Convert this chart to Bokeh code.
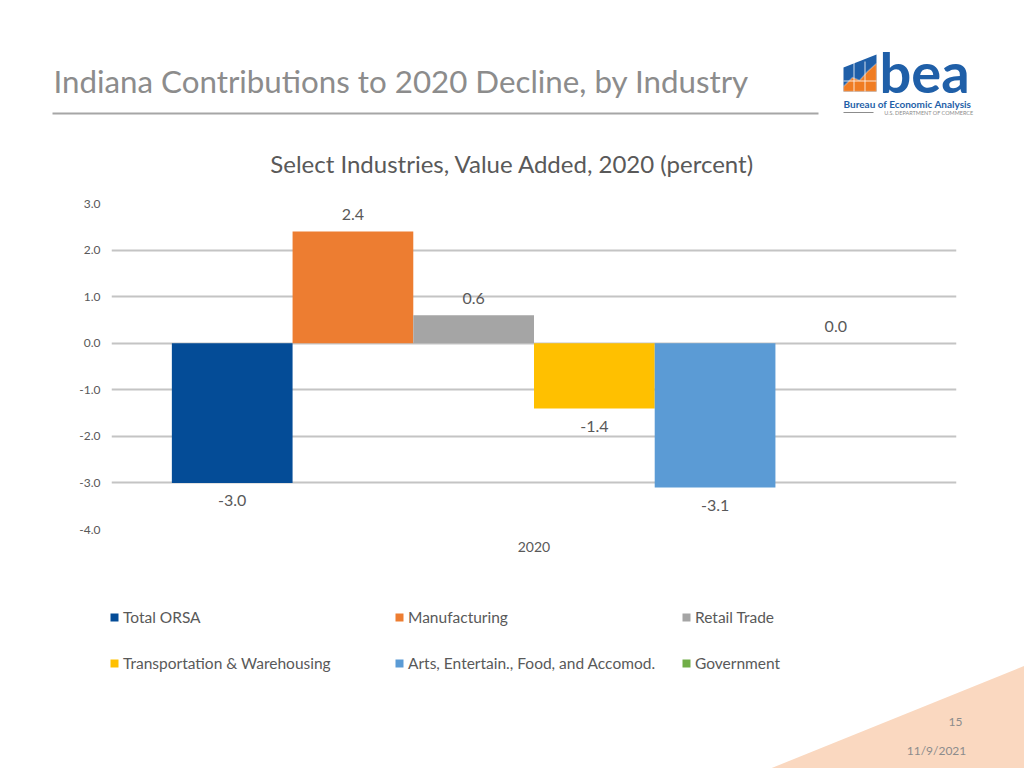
from bokeh.plotting import figure
from bokeh.layouts import column
from bokeh.models import (Range1d, FactorRange, FixedTicker, NumeralTickFormatter,
                          ColumnDataSource, Legend, LegendItem, Label,
                          BoxAnnotation, PolyAnnotation)
from bokeh.embed import file_html
from bokeh.resources import INLINE
from bokeh.core.properties import value

# ---------------- data ----------------
categories = ["2020"]
series = ["Total ORSA", "Manufacturing", "Retail Trade",
          "Transportation & Warehousing", "Arts, Entertain., Food, and Accomod.",
          "Government"]
values_2020 = [-3.0, 2.4, 0.6, -1.4, -3.1, 0.0]
colors = ["#044c97", "#ed7d31", "#a5a5a5", "#ffc000", "#5b9bd5", "#70ad47"]
y_ticks = [-4.0, -3.0, -2.0, -1.0, 0.0, 1.0, 2.0, 3.0]

slide_title = "Indiana Contributions to 2020 Decline, by Industry"
chart_title = "Select Industries, Value Added, 2020 (percent)"
slide_number = "15"
slide_date = "11/9/2021"

FONT = "Lato"
TXT = "#595959"
GRAY = "#8c8c8c"
W = 1024
HEAD_H, CHART_H, FOOT_H = 185, 405, 178

n = len(series)
slot = 1.0 / (n + 1)
xs = [(categories[0], (i - (n - 1) / 2) * slot) for i in range(n)]
labels = [f"{v:.1f}" for v in values_2020]
yoff = [-17 if v >= 0 else 18 for v in values_2020]

src = ColumnDataSource(dict(x=xs, idx=list(range(n)), value=values_2020,
                            color=colors, label=labels, yoff=yoff, name=series))


def blank(h, y0, y1):
    f = figure(width=W, height=h, x_range=Range1d(0, W), y_range=Range1d(y1, y0),
               x_axis_type=None, y_axis_type=None, output_backend="svg",
               toolbar_location=None, min_border=0, frame_align=False)
    f.grid.visible = False
    f.outline_line_color = None
    f.background_fill_color = "white"
    f.border_fill_color = "white"
    return f


# ---------------- header ----------------
ph = blank(HEAD_H, 0, HEAD_H)
ph.add_layout(Label(x=53, y=80, text=slide_title, text_font=FONT,
                    text_font_size="31.3px", text_color=GRAY,
                    text_baseline="middle", text_align="left"))
ph.add_layout(BoxAnnotation(left=52, right=818, top=112, bottom=114,
                            fill_color="#a6a6a6", fill_alpha=1, line_color=None))

BLUE = "#1f5fa8"
ORANGE = "#f07c22"
ph.add_layout(PolyAnnotation(xs=[843, 876, 876, 843], ys=[67, 54, 91, 91],
                             fill_color=BLUE, fill_alpha=1, line_color=None))
ph.add_layout(PolyAnnotation(xs=[843, 843, 852, 859, 867, 876, 876],
                             ys=[91, 86, 77, 80, 71, 63, 91],
                             fill_color=ORANGE, fill_alpha=1, line_color="white",
                             line_width=1.5))
for gx in (853, 864):
    ph.add_layout(BoxAnnotation(left=gx, right=gx + 1, top=61, bottom=91,
                                fill_color="white", fill_alpha=0.8, line_color=None))
ph.add_layout(BoxAnnotation(left=843, right=876, top=80, bottom=81,
                            fill_color="white", fill_alpha=0.8, line_color=None))
ph.add_layout(Label(x=879, y=71, text="bea", text_font=FONT, text_font_style="bold",
                    text_font_size="56px", text_color=BLUE,
                    text_baseline="middle", text_align="left"))
ph.add_layout(Label(x=843, y=103, text="Bureau of Economic Analysis", text_font=FONT,
                    text_font_style="bold", text_font_size="10px", text_color=BLUE,
                    text_baseline="middle", text_align="left"))
ph.add_layout(Label(x=973, y=112, text="U.S. DEPARTMENT OF COMMERCE", text_font=FONT,
                    text_font_size="5.5px", text_color=GRAY,
                    text_baseline="middle", text_align="right"))
ph.add_layout(BoxAnnotation(left=843, right=873, top=111.5, bottom=112.5,
                            fill_color=GRAY, fill_alpha=1, line_color=None))
ph.add_layout(Label(x=512, y=163, text=chart_title, text_font=FONT,
                    text_font_size="24px", text_color=TXT,
                    text_baseline="middle", text_align="center"))

# ---------------- chart ----------------
p = figure(width=W, height=CHART_H, x_range=FactorRange(*categories),
           y_range=Range1d(-4, 3), output_backend="svg", toolbar_location=None,
           min_border_left=111, min_border_right=68, min_border_top=18,
           min_border_bottom=61, frame_align=False)
p.background_fill_color = "white"
p.border_fill_color = "white"
p.outline_line_color = None

bars = p.vbar(x="x", top="value", bottom=0, width=slot, fill_color="color",
              line_color=None, source=src)
p.text(x="x", y="value", text="label", y_offset="yoff", source=src,
       text_align="center", text_baseline="middle", text_font=value(FONT),
       text_font_size="16px", text_color=TXT)

p.yaxis.ticker = FixedTicker(ticks=y_ticks)
p.yaxis.formatter = NumeralTickFormatter(format="0.0")
p.yaxis.axis_line_color = None
p.yaxis.major_tick_line_color = None
p.yaxis.minor_tick_line_color = None
p.yaxis.major_tick_out = 0
p.yaxis.major_tick_in = 0
p.yaxis.major_label_standoff = 11
p.yaxis.major_label_text_font = FONT
p.yaxis.major_label_text_font_size = "12px"
p.yaxis.major_label_text_color = TXT

p.xaxis.axis_line_color = None
p.xaxis.major_tick_line_color = None
p.xaxis.major_tick_out = 0
p.xaxis.major_tick_in = 0
p.xaxis.major_label_standoff = 12
p.xaxis.major_label_text_font = FONT
p.xaxis.major_label_text_font_size = "14px"
p.xaxis.major_label_text_color = TXT

p.xgrid.visible = False
p.ygrid.ticker = FixedTicker(ticks=y_ticks)
p.ygrid.grid_line_color = "#c4c4c4"
p.ygrid.grid_line_width = 2

# ---------------- footer (legend, page info) ----------------
y0 = HEAD_H + CHART_H
pf = blank(FOOT_H, y0, y0 + FOOT_H)
pf.add_layout(PolyAnnotation(xs=[765, 1030, 1030], ys=[770, 663, 770],
                             fill_color="#fad8c0", fill_alpha=1, line_color=None))
swatch = pf.vbar(x="idx", top=0, bottom=0, width=0, fill_color="color",
                 line_color=None, source=src)

col_x = [109, 394, 681]
row_y = [617, 663]
for i, name in enumerate(series):
    cx = col_x[i % 3]
    cy = row_y[i // 3]
    leg = Legend(items=[LegendItem(label=name, renderers=[swatch], index=i)],
                 location=(cx, y0 + FOOT_H - (cy + 10)), orientation="horizontal",
                 glyph_width=10, glyph_height=10, label_standoff=4,
                 label_height=20, padding=0, margin=0, spacing=0,
                 border_line_color=None, background_fill_alpha=0,
                 label_text_font=FONT, label_text_font_size="15.5px",
                 label_text_color=TXT, label_text_baseline="middle")
    pf.add_layout(leg)

pf.add_layout(Label(x=955, y=721, text=slide_number, text_font=FONT,
                    text_font_size="12px", text_color=GRAY,
                    text_baseline="middle", text_align="center"))
pf.add_layout(Label(x=936, y=750, text=slide_date, text_font=FONT,
                    text_font_size="12px", text_color=GRAY,
                    text_baseline="middle", text_align="center"))

layout = column(ph, p, pf, spacing=0)
open("out.html", "w").write(file_html(layout, INLINE))
